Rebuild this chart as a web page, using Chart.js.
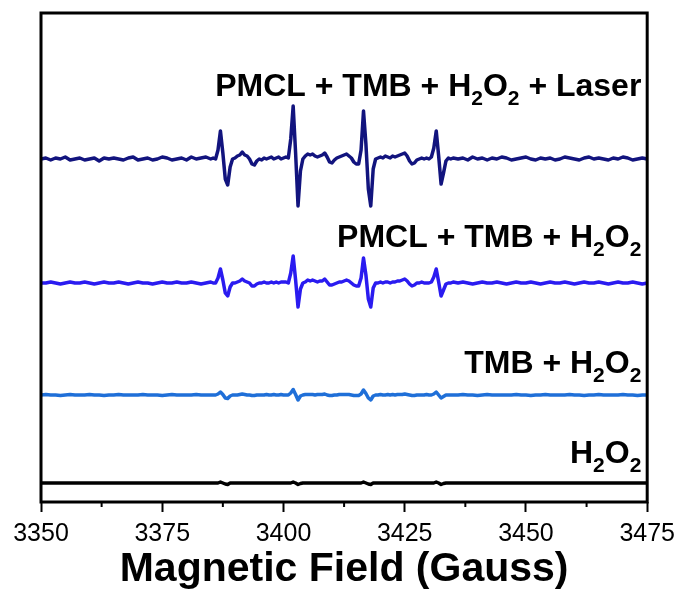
<!DOCTYPE html>
<html>
<head>
    <meta charset="UTF-8">
    <title>EPR spectra</title>
    <style type="text/css">
        body {
            background-color: white;
            margin: 0;
            padding: 0;
        }

        #eprChartContainer {
            width: 682px;
            height: 592px;
        }
    </style>

    <script src="https://cdn.jsdelivr.net/npm/chart.js@4.4.0/dist/chart.umd.min.js"></script>

    <script type="text/javascript">
    // magnetic field (Gauss), shared by all spectra
    var fieldG = [
        3350,3351,3352,3353,3354,3355,3356,3357,3358,3359,
        3360,3361,3362,3363,3364,3365,3366,3367,3368,3369,
        3370,3371,3372,3373,3374,3375,3376,3377,3378,3379,
        3380,3381,3382,3383,3384,3385,
        3385.5,3386,3386.5,3387,3387.5,3388,3388.5,3389,3389.5,3390,
        3390.5,3391,3391.5,3392,3392.5,3393,3393.5,3394,3394.5,3395,
        3395.5,3396,3396.5,3397,3397.5,3398,3398.5,3399,3399.5,3400,
        3400.5,3401,3401.5,3402,3402.5,3403,3403.5,3404,3404.5,3405,
        3405.5,3406,3406.5,3407,3407.5,3408,3408.5,3409,3409.5,3410,
        3410.5,3411,3411.5,3412,3412.5,3413,3413.5,3414,3414.5,3415,
        3415.5,3416,3416.5,3417,3417.5,3418,3418.5,3419,3419.5,3420,
        3420.5,3421,3421.5,3422,3422.5,3423,3423.5,3424,3424.5,3425,
        3425.5,3426,3426.5,3427,3427.5,3428,3428.5,3429,3429.5,3430,
        3430.5,3431,3431.5,3432,3432.5,3433,3433.5,3434,3434.5,3435,
        3436,3437,3438,3439,3440,3441,3442,3443,3444,3445,
        3446,3447,3448,3449,3450,3451,3452,3453,3454,3455,
        3456,3457,3458,3459,3460,3461,3462,3463,3464,3465,
        3466,3467,3468,3469,3470,3471,3472,3473,3474,3475
    ];

    // PMCL + TMB + H2O2 + Laser (a.u., relative to its baseline)
    var laserSignal = [
        0,1,-1,1,0,2,-1,0,1,-1,
        0,1,-2,1,0,1,0,-1,1,2,
        -1,0,1,-1,0,2,1,-1,0,1,
        -1,2,0,1,2,0,
        1,0,9,28,6,-20,-26,-8,0,1,
        3,4,7,4,3,0,-5,-6,-2,0,
        -1,1,0,1,2,0,1,2,0,1,
        2,1,20,53,6,-47,-12,0,3,5,
        4,5,3,2,3,4,6,2,-3,-4,
        -1,1,2,3,4,5,3,1,-3,-5,
        -5,9,48,15,-30,-47,-10,0,1,2,
        1,3,2,1,3,2,3,4,5,6,
        3,-2,-5,-4,-1,0,1,0,1,0,
        2,11,28,3,-25,-14,-2,1,0,1,
        0,1,-1,2,0,1,-1,1,0,2,
        1,-1,0,1,2,0,-1,1,0,1,
        -1,0,2,1,0,-1,1,2,0,1,
        0,-1,1,0,2,1,-1,0,1,0
    ];

    // PMCL + TMB + H2O2
    var pmclSignal = [
        0,0,1,0,-1,0,1,0,0,1,
        0,-1,0,1,0,0,1,0,-1,0,
        1,0,0,-1,0,1,0,0,1,0,
        0,1,0,-1,0,1,
        0,0,5,14,3,-10,-13,-4,0,0,
        1,2,4,2,1,0,-3,-3,-1,0,
        0,1,0,0,1,0,1,0,1,1,
        1,0,10,27,3,-24,-6,0,1,3,
        2,3,2,1,2,2,4,1,-2,-2,
        -1,0,1,1,2,3,2,0,-2,-3,
        -3,5,25,8,-16,-24,-5,0,0,1,
        0,1,1,0,1,1,2,2,3,4,
        2,-1,-3,-2,0,0,1,0,0,0,
        1,6,14,1,-13,-7,-1,0,0,1,
        0,1,0,-1,0,1,0,0,1,0,
        -1,0,1,0,0,1,0,-1,0,1,
        0,0,1,0,-1,0,1,0,0,1,
        0,-1,0,1,0,0,1,0,-1,0
    ];

    // TMB + H2O2
    var tmbSignal = [
        0,0.5,0,0,-0.5,0,0.5,0,0,0,
        0.5,0,0,-0.5,0,0,0.5,0,0,0,
        0,0.5,0,0,0,-0.5,0,0.5,0,0,
        0,0,0.5,0,0,0,
        0,0,1,3,0.5,-3,-3.5,-1,0,0,
        0,0.5,1,0.5,0,0,-0.5,-0.5,0,0,
        0,0,0.5,0,0,0.5,0,0,0.5,0,
        0,0,2,5.5,0.5,-5,-1,0,0.5,0.5,
        0.5,0.5,0,0.5,0.5,0.5,1,0,-0.5,-0.5,
        0,0,0.5,0.5,0.5,0.5,0.5,0,-0.5,-0.5,
        -0.5,1,5,1.5,-3,-5,-1,0,0,0.5,
        0,0,0.5,0,0.5,0,0.5,0.5,0.5,1,
        0.5,0,-0.5,-0.5,0,0,0,0,0.5,0,
        0,1,3,0,-3,-1.5,0,0,0,0,
        0,0.5,0,0,-0.5,0,0.5,0,0,0,
        0,0,0.5,0,0,-0.5,0,0,0.5,0,
        0,0,0,0.5,0,0,-0.5,0,0,0.5,
        0,0,0,0,0.5,0,0,-0.5,0,0
    ];

    // H2O2
    var h2o2Signal = [
        0,0,0,0,0,0,0,0,0,0,
        0,0,0,0,0,0,0,0,0,0,
        0,0,0,0,0,0,0,0,0,0,
        0,0,0,0,0,0,
        0,0,0,1,0,-1,-1.5,0,0,0,
        0,0,0,0,0,0,0,0,0,0,
        0,0,0,0,0,0,0,0,0,0,
        0,0,0,1,0,-1.5,-0.5,0,0,0,
        0,0,0,0,0,0,0,0,0,0,
        0,0,0,0,0,0,0,0,0,0,
        0,0,1,0,-1,-1.5,0,0,0,0,
        0,0,0,0,0,0,0,0,0,0,
        0,0,0,0,0,0,0,0,0,0,
        0,0,1,0,-1.5,-0.5,0,0,0,0,
        0,0,0,0,0,0,0,0,0,0,
        0,0,0,0,0,0,0,0,0,0,
        0,0,0,0,0,0,0,0,0,0,
        0,0,0,0,0,0,0,0,0,0
    ];

    // vertical offsets used to stack the spectra (a.u.)
    var stackOffsets = [343, 219, 107, 19];
    var seriesNames = ['PMCL + TMB + H_2O_2 + Laser', 'PMCL + TMB + H_2O_2', 'TMB + H_2O_2', 'H_2O_2'];
    var majorTicks = [3350, 3375, 3400, 3425, 3450, 3475];
    var minorTicks = [3362.5, 3387.5, 3412.5, 3437.5, 3462.5];

    var lineColors = ['#12147e', '#2a1bf0', '#1f6fd8', '#000000'];
    // where each label sits: [field, intensity] of its right end / baseline
    var labelAnchors = [[3473.8, 406], [3473.8, 255], [3473.8, 129], [3473.8, 39]];

    var FONT = "'Liberation Sans', Arial, sans-serif";

    function toPoints(signal, offset) {
        var pts = [];
        for (var i = 0; i < fieldG.length; i++) {
            pts.push({ x: fieldG[i], y: signal[i] + offset });
        }
        return pts;
    }

    // draws labels with subscripts ("_2"), the frame and the minor ticks
    var decorPlugin = {
        id: 'decor',
        afterDatasetsDraw: function (chart) {
            var ctx = chart.ctx;
            var area = chart.chartArea;
            var xs = chart.scales.x;
            var ys = chart.scales.y;

            ctx.save();
            ctx.fillStyle = '#000';
            ctx.textBaseline = 'alphabetic';
            var bigFont = 'bold 32px ' + FONT;
            var subFont = 'bold 21px ' + FONT;

            for (var i = 0; i < seriesNames.length; i++) {
                var parts = [];
                var s = seriesNames[i];
                for (var k = 0; k < s.length; k++) {
                    if (s[k] === '_') {
                        parts.push({ t: s[k + 1], sub: true });
                        k++;
                    } else if (parts.length && !parts[parts.length - 1].sub) {
                        parts[parts.length - 1].t += s[k];
                    } else {
                        parts.push({ t: s[k], sub: false });
                    }
                }
                var total = 0;
                parts.forEach(function (p) {
                    ctx.font = p.sub ? subFont : bigFont;
                    p.w = ctx.measureText(p.t).width;
                    total += p.w;
                });
                var x = xs.getPixelForValue(labelAnchors[i][0]) - total;
                var y = ys.getPixelForValue(labelAnchors[i][1]);
                parts.forEach(function (p) {
                    ctx.font = p.sub ? subFont : bigFont;
                    ctx.fillText(p.t, x, p.sub ? y + 9 : y);
                    x += p.w;
                });
            }

            ctx.strokeStyle = '#000';
            ctx.lineWidth = 3;
            ctx.strokeRect(area.left, area.top, area.right - area.left, area.bottom - area.top);

            ctx.lineWidth = 2;
            minorTicks.forEach(function (v) {
                var px = xs.getPixelForValue(v);
                ctx.beginPath();
                ctx.moveTo(px, area.bottom);
                ctx.lineTo(px, area.bottom + 5);
                ctx.stroke();
            });
            ctx.restore();
        }
    };

    function drawEprChart() {
        var ctx = document.getElementById('eprChart').getContext('2d');
        var signals = [laserSignal, pmclSignal, tmbSignal, h2o2Signal];
        var datasets = [];
        for (var i = 0; i < signals.length; i++) {
            datasets.push({
                label: seriesNames[i],
                data: toPoints(signals[i], stackOffsets[i]),
                borderColor: lineColors[i],
                borderWidth: 3.5,
                borderJoinStyle: 'round',
                borderCapStyle: 'round',
                pointRadius: 0,
                tension: 0,
                fill: false
            });
        }

        new Chart(ctx, {
            type: 'line',
            data: { datasets: datasets },
            options: {
                responsive: false,
                animation: false,
                devicePixelRatio: 1,
                layout: { padding: { left: 41, right: 34, top: 13, bottom: 0 } },
                plugins: {
                    legend: { display: false },
                    tooltip: { enabled: false }
                },
                scales: {
                    x: {
                        type: 'linear',
                        min: 3350,
                        max: 3475,
                        afterFit: function (scale) { scale.height = 90; },
                        afterBuildTicks: function (scale) {
                            scale.ticks = majorTicks.map(function (v) { return { value: v }; });
                        },
                        ticks: {
                            autoSkip: false,
                            maxRotation: 0,
                            padding: 7,
                            color: '#000',
                            font: { family: FONT, size: 25 },
                            callback: function (value) { return String(value); }
                        },
                        grid: {
                            drawOnChartArea: false,
                            tickLength: 10,
                            tickWidth: 2,
                            tickColor: '#000'
                        },
                        border: { display: false },
                        title: {
                            display: true,
                            text: 'Magnetic Field (Gauss)',
                            color: '#000',
                            font: { family: FONT, size: 41, weight: 'bold' },
                            padding: { top: 0, bottom: -2 }
                        }
                    },
                    y: {
                        display: false,
                        min: 0,
                        max: 489
                    }
                }
            },
            plugins: [decorPlugin]
        });
    }

    document.addEventListener("DOMContentLoaded", function () {
        drawEprChart();
    });
    </script>
</head>
<body>
    <div id="eprChartContainer">
        <canvas id="eprChart" width="682" height="592"></canvas>
    </div>
</body>
</html>
